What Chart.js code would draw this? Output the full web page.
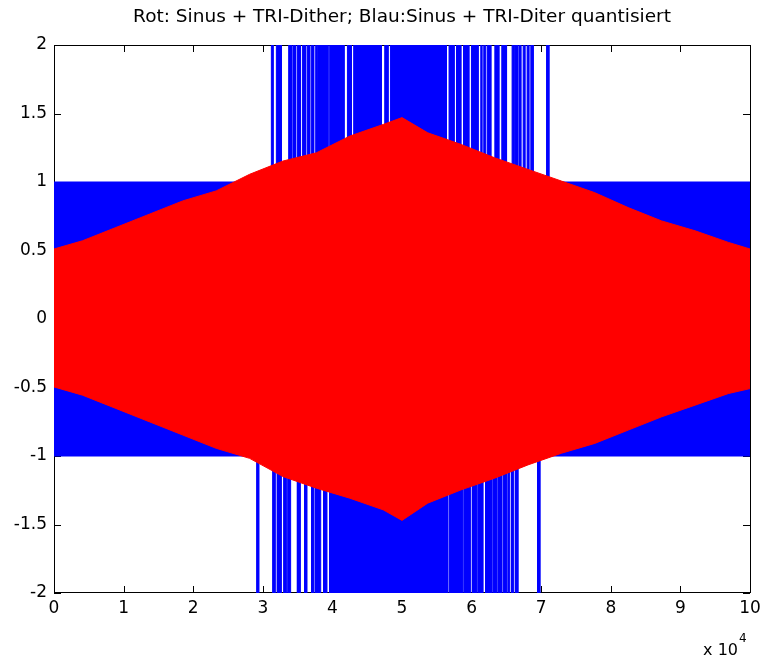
<!DOCTYPE html>
<html>
<head>
<meta charset="utf-8">
<script src="https://cdn.jsdelivr.net/npm/chart.js@4"></script>
<style>
	html, body { margin: 0; padding: 0; background: #fff; }
	#wrap { width: 762px; height: 659px; }
</style>
</head>
<body>
<div id="wrap"><canvas id="sigChart" width="762" height="659"></canvas></div>
<script>
// x values are in units of 10^4 samples
const xTicks = [0, 1, 2, 3, 4, 5, 6, 7, 8, 9, 10];
const yTicks = [-2, -1.5, -1, -0.5, 0, 0.5, 1, 1.5, 2];

// red: sinus + TRI dither, read envelope
const redX =     [0, 0.41, 0.89, 1.37, 1.85, 2.33, 2.81, 3.29, 3.77, 4.25, 4.73, 5.0, 5.37, 5.85, 6.33, 6.81, 7.29, 7.77, 8.25, 8.73, 9.21, 9.69, 10];
const redUpper = [0.511, 0.571, 0.668, 0.765, 0.862, 0.935, 1.056, 1.153, 1.213, 1.335, 1.42, 1.47, 1.359, 1.274, 1.177, 1.092, 1.007, 0.922, 0.813, 0.716, 0.644, 0.559, 0.511];
const redLower = [-0.496, -0.556, -0.653, -0.75, -0.847, -0.944, -1.017, -1.15, -1.235, -1.308, -1.393, -1.47, -1.344, -1.247, -1.162, -1.065, -0.98, -0.908, -0.811, -0.714, -0.629, -0.544, -0.508];

// blue: quantised signal, always between -1 and 1, hits +2 / -2 in these ranges
const blueBand = [-1, 1];
const blueTopSpans = [
	[3.123, 3.147], [3.195, 3.267], [3.372, 3.415], [3.434, 3.472], [3.497, 3.540],
	[3.569, 3.616], [3.641, 3.674], [3.698, 3.731], [3.760, 3.779], [3.793, 3.937],
	[3.961, 4.167], [4.216, 4.273], [4.306, 4.705], [4.752, 4.799], [4.834, 5.639],
	[5.676, 5.748], [5.783, 5.845], [5.884, 5.960], [5.998, 6.093], [6.132, 6.147],
	[6.175, 6.194], [6.223, 6.276], [6.334, 6.391], [6.434, 6.502], [6.582, 6.611],
	[6.631, 6.660], [6.679, 6.707], [6.741, 6.765], [6.798, 6.822], [6.851, 6.884],
	[7.077, 7.110]
];
const blueBottomSpans = [
	[2.916, 2.945], [3.146, 3.180], [3.209, 3.267], [3.304, 3.339], [3.362, 3.400],
	[3.497, 3.540], [3.602, 3.635], [3.702, 3.735], [3.756, 3.832], [3.875, 3.922],
	[3.961, 5.662], [5.687, 5.869], [5.892, 5.989], [6.013, 6.070], [6.093, 6.165],
	[6.200, 6.286], [6.309, 6.358], [6.381, 6.438], [6.463, 6.502], [6.525, 6.549],
	[6.574, 6.607], [6.631, 6.669], [6.947, 6.985]
];
const peakLevel = 2;

function spanPoints(spans, base, peak) {
	const pts = [{x: 0, y: base}];
	spans.forEach(([a, b]) => {
		pts.push({x: a, y: base}, {x: a, y: peak}, {x: b, y: peak}, {x: b, y: base});
	});
	pts.push({x: 10, y: base});
	return pts;
}

const fontFam = '"DejaVu Sans", Arial, sans-serif';

// MATLAB style box with inward ticks, drawn under the data
const axesBox = {
	id: 'axesBox',
	beforeDatasetsDraw(chart) {
		const {ctx, chartArea: a, scales: {x, y}} = chart;
		const len = 7;
		ctx.save();
		ctx.strokeStyle = '#000';
		ctx.lineWidth = 1;
		ctx.beginPath();
		ctx.moveTo(a.left + 0.5, a.top + 0.5);
		ctx.lineTo(a.right + 0.5, a.top + 0.5);
		ctx.lineTo(a.right + 0.5, a.bottom - 0.5);
		ctx.lineTo(a.left + 0.5, a.bottom - 0.5);
		ctx.closePath();
		x.ticks.forEach(t => {
			const px = Math.round(x.getPixelForValue(t.value)) + 0.5;
			ctx.moveTo(px, a.bottom);
			ctx.lineTo(px, a.bottom - len);
			ctx.moveTo(px, a.top);
			ctx.lineTo(px, a.top + len);
		});
		y.ticks.forEach(t => {
			const py = Math.round(y.getPixelForValue(t.value)) + 0.5;
			ctx.moveTo(a.left, py);
			ctx.lineTo(a.left + len, py);
			ctx.moveTo(a.right, py);
			ctx.lineTo(a.right - len, py);
		});
		ctx.stroke();
		ctx.restore();
	},
	afterDraw(chart) {
		const {ctx, chartArea: a} = chart;
		ctx.save();
		ctx.fillStyle = '#000';
		ctx.textBaseline = 'alphabetic';
		ctx.textAlign = 'right';
		ctx.font = '16px ' + fontFam;
		ctx.fillText('x 10', a.right - 12, 655);
		ctx.textAlign = 'left';
		ctx.font = '12px ' + fontFam;
		ctx.fillText('4', a.right - 11, 642);
		ctx.restore();
	}
};

const ctx = document.getElementById('sigChart').getContext('2d');
const sigChart = new Chart(ctx, {
	type: 'line',
	data: {
		datasets: [
			{
				label: 'Rot upper',
				data: redX.map((v, i) => ({x: v, y: redUpper[i]})),
				borderColor: '#ff0000',
				backgroundColor: '#ff0000',
				borderWidth: 1,
				fill: '+1'
			},
			{
				label: 'Rot lower',
				data: redX.map((v, i) => ({x: v, y: redLower[i]})),
				borderColor: '#ff0000',
				borderWidth: 1,
				fill: false
			},
			{
				label: 'Blau +2',
				data: spanPoints(blueTopSpans, blueBand[1], peakLevel),
				borderWidth: 1,
				borderColor: '#0000ff',
				backgroundColor: '#0000ff',
				fill: {value: blueBand[1]}
			},
			{
				label: 'Blau -2',
				data: spanPoints(blueBottomSpans, blueBand[0], -peakLevel),
				borderWidth: 1,
				borderColor: '#0000ff',
				backgroundColor: '#0000ff',
				fill: {value: blueBand[0]}
			},
			{
				label: 'Blau',
				data: [{x: 0, y: blueBand[1]}, {x: 10, y: blueBand[1]}],
				borderWidth: 0,
				backgroundColor: '#0000ff',
				fill: {value: blueBand[0]}
			}
		]
	},
	options: {
		responsive: false,
		animation: false,
		events: [],
		elements: {
			point: { radius: 0 },
			line: { tension: 0 }
		},
		layout: {
			padding: { left: 0, right: 12, top: 0, bottom: 0 }
		},
		plugins: {
			legend: { display: false },
			tooltip: { enabled: false },
			title: {
				display: true,
				fullSize: false, // centre over the plot box, like MATLAB
				text: 'Rot: Sinus + TRI-Dither; Blau:Sinus + TRI-Diter quantisiert',
				color: '#000',
				font: { family: fontFam, size: 18.5, weight: 'normal' },
				padding: { top: 6, bottom: 16.8 }
			}
		},
		scales: {
			x: {
				type: 'linear',
				min: 0,
				max: 10,
				afterBuildTicks: (s) => { s.ticks = xTicks.map(v => ({value: v})); },
				afterFit: (s) => { s.height = 66; s.paddingLeft = 0; s.paddingRight = 0; },
				grid: { display: false, drawTicks: false },
				border: { display: false },
				ticks: {
					color: '#000',
					padding: 5,
					maxRotation: 0,
					font: { family: fontFam, size: 17 },
					callback: (v) => String(v)
				}
			},
			y: {
				type: 'linear',
				min: -2,
				max: 2,
				afterBuildTicks: (s) => { s.ticks = yTicks.map(v => ({value: v})); },
				afterFit: (s) => { s.width = 54; s.paddingTop = 0; s.paddingBottom = 0; },
				grid: { display: false, drawTicks: false },
				border: { display: false },
				ticks: {
					color: '#000',
					padding: 7,
					font: { family: fontFam, size: 17 },
					callback: (v) => String(v)
				}
			}
		}
	},
	plugins: [axesBox]
});
</script>
</body>
</html>
